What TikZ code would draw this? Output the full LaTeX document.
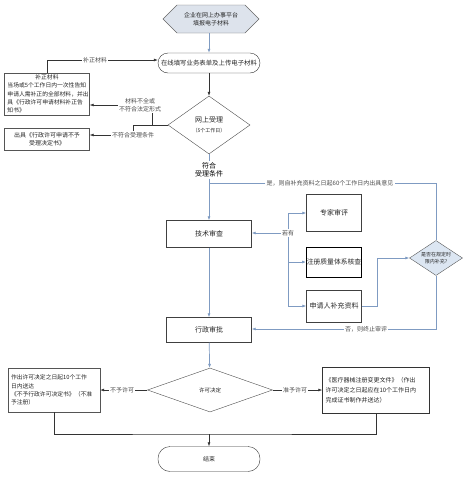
\documentclass[tikz,border=0pt]{standalone}
\usepackage{fontspec}
\setmainfont{Noto Sans CJK SC}
\usepackage{xcolor}
\definecolor{flowline}{HTML}{7F9BC2}
\definecolor{hexfill}{HTML}{DDE3EC}
\definecolor{checkfill}{HTML}{DCE6F2}
\definecolor{boxline}{HTML}{555555}
\usepackage{tikz}
\usetikzlibrary{shapes.geometric, shapes.symbols, arrows.meta}

\begin{document}
\begin{tikzpicture}[
  x=1pt, y=-1pt,
  base/.style={font=\fontsize{6}{8}\selectfont, align=center, inner sep=1pt, text=black!85},
  startbox/.style={
    base, signal, signal to=west and east, draw=gray!80!black,
    fill=hexfill, minimum width=96, minimum height=28
  },
  pill/.style={
    base, rectangle, rounded corners=10pt, draw=black!80,
    minimum width=102, minimum height=20
  },
  block/.style={
    base, rectangle, draw=black!75, minimum width=85, minimum height=27,
    font=\fontsize{7}{8}\selectfont
  },
  note/.style={
    base, rectangle, draw=boxline, align=left, inner xsep=3pt,
    font=\fontsize{5.8}{8.3}\selectfont
  },
  decision/.style={base, diamond, draw=black!70, inner sep=0pt},
  tag/.style={base, fill=white, text=black!70},
  blueline/.style={flowline, line width=0.7pt},
  bluearrow/.style={blueline, -{Latex[length=4pt,width=3pt]}},
  blkline/.style={black!80, line width=0.6pt},
  blkarrow/.style={blkline, -{Latex[length=4pt,width=3pt]}},
]
  \useasboundingbox (0,0) rectangle (465,488);

  \node[startbox] (start) at (211,19) {企业在网上办事平台\\填报电子材料};
  \node[pill, font=\fontsize{6.4}{8}\selectfont] (online) at (209,63) {在线填写业务表单及上传电子材料};
  \node[decision, aspect=1.4, minimum width=82, minimum height=58] (accept) at (209,125)
    {{\fontsize{7}{8}\selectfont 网上受理}\\[2pt]{\fontsize{5}{6}\selectfont （5个工作日）}};
  \node[tag, font=\fontsize{7}{8.5}\selectfont, text=black] (fuhe) at (209,170) {符合\\受理条件};
  \node[block] (tech) at (209,234) {技术审查};
  \node[block, minimum height=25] (approve) at (209,330) {行政审批};
  \node[decision, aspect=2.8, minimum width=125, minimum height=44,
        font=\fontsize{5.5}{7}\selectfont] (decide) at (210,390) {许可决定};
  \node[pill, rounded corners=12pt, minimum height=25] (end) at (209,459) {结束};

  \node[block, minimum width=55, minimum height=37] (expert) at (334,213) {专家审评};
  \node[block, minimum width=55, minimum height=30, draw=black, line width=1pt,
        inner sep=0pt, font=\fontsize{6.8}{8}\selectfont] (system) at (334,262) {注册质量体系核查};
  \node[block, minimum width=55, minimum height=32] (supply) at (334,306) {申请人补充资料};
  \node[decision, aspect=1.5, fill=checkfill, draw=gray!70!black, minimum width=53,
        minimum height=35, font=\fontsize{5}{6.5}\selectfont] (check) at (436,258)
    {是否在规定时\\限内补充?};

  \node[note, text width=79, minimum height=42] (fix) at (47,94)
    {\makebox[79pt]{补正材料}\\当场或5个工作日内一次性告知\\申请人需补正的全部材料，并出\\具《行政许可申请材料补正告\\知书》};
  \node[note, align=center, minimum width=85, minimum height=22,
        font=\fontsize{6}{8}\selectfont] (reject) at (47,139)
    {出具《行政许可申请不予\\受理决定书》};
  \node[note, text width=86, minimum height=44] (refuse) at (54,390)
    {作出许可决定之日起10个工作\\日内送达\\《不予行政许可决定书》（不准\\予注册）};
  \node[note, text width=101, minimum height=46, draw=black!80,
        font=\fontsize{6}{10}\selectfont] (grant) at (376,390)
    {《医疗器械注册变更文件》（作出\\许可决定之日起应在10个工作日内\\完成证书制作并送达）};

  \node[tag] (buzheng) at (95,60) {补正材料};
  \node[tag] (buquan) at (140,105) {材料不全或\\不符合法定形式};
  \node[tag] (bufuhe) at (133,135) {不符合受理条件};
  \node[tag] (shi) at (330,183) {是，则自补充资料之日起60个工作日内出具意见};
  \node[tag] (ruoyou) at (288,233) {若有};
  \node[tag] (fou) at (366,329) {否，则终止审评};
  \node[tag] (buyu) at (122,390) {不予许可};
  \node[tag] (zhunyu) at (295,390) {准予许可};

  \coordinate (forkA) at (152,125);
  \coordinate (forkB) at (133,125);
  \coordinate (merge) at (209,434);

  \draw[bluearrow] (start.south -| online.north) -- (online.north);
  \draw[blkarrow] (online) -- (accept);
  \draw[blueline] (accept.south) -- (fuhe.north);
  \draw[bluearrow] (fuhe.south) -- (tech.north);
  \draw[bluearrow] (tech) -- (approve);
  \draw[bluearrow] (approve) -- (decide);

  \draw[blkline] (accept.west) -- (forkB) -- (forkB |- bufuhe.north);
  \draw[blkline] (forkA) -- (forkA |- buquan.south);
  \draw[blkarrow] (buquan.west) -- (buquan.west -| fix.east);
  \draw[blkarrow] (bufuhe.west) -- (bufuhe.west -| reject.east);
  \draw[blkline] (fix.north) |- (buzheng.west);
  \draw[blkarrow] (buzheng.east) -- (buzheng.east -| online.west);

  \draw[bluearrow] (ruoyou.west) -- (ruoyou.west -| tech.east);
  \draw[bluearrow] (ruoyou.north) |- (expert.west);
  \draw[bluearrow] (ruoyou.south) |- (system.west);
  \draw[bluearrow] (ruoyou.south) |- (supply.west);
  \draw[bluearrow] (supply.east) -- ++(16,0) |- (check.west);
  \draw[blueline] (check.north) |- (shi.east);
  \draw[blueline] (shi.west) -- (shi.west -| fuhe.south);
  \draw[blueline] (check.south) |- (fou.east);
  \draw[bluearrow] (fou.west) -- (fou.west -| approve.east);

  \draw[blkline] (decide.west) -- (buyu.east);
  \draw[blkarrow] (buyu.west) -- (buyu.west -| refuse.east);
  \draw[blkline] (decide.east) -- (zhunyu.west);
  \draw[blkarrow] (zhunyu.east) -- (zhunyu.east -| grant.west);
  \draw[blkline] (refuse.south) |- (merge) -| (grant.south);
  \draw[blkarrow] (merge) -- (end);
\end{tikzpicture}
\end{document}
